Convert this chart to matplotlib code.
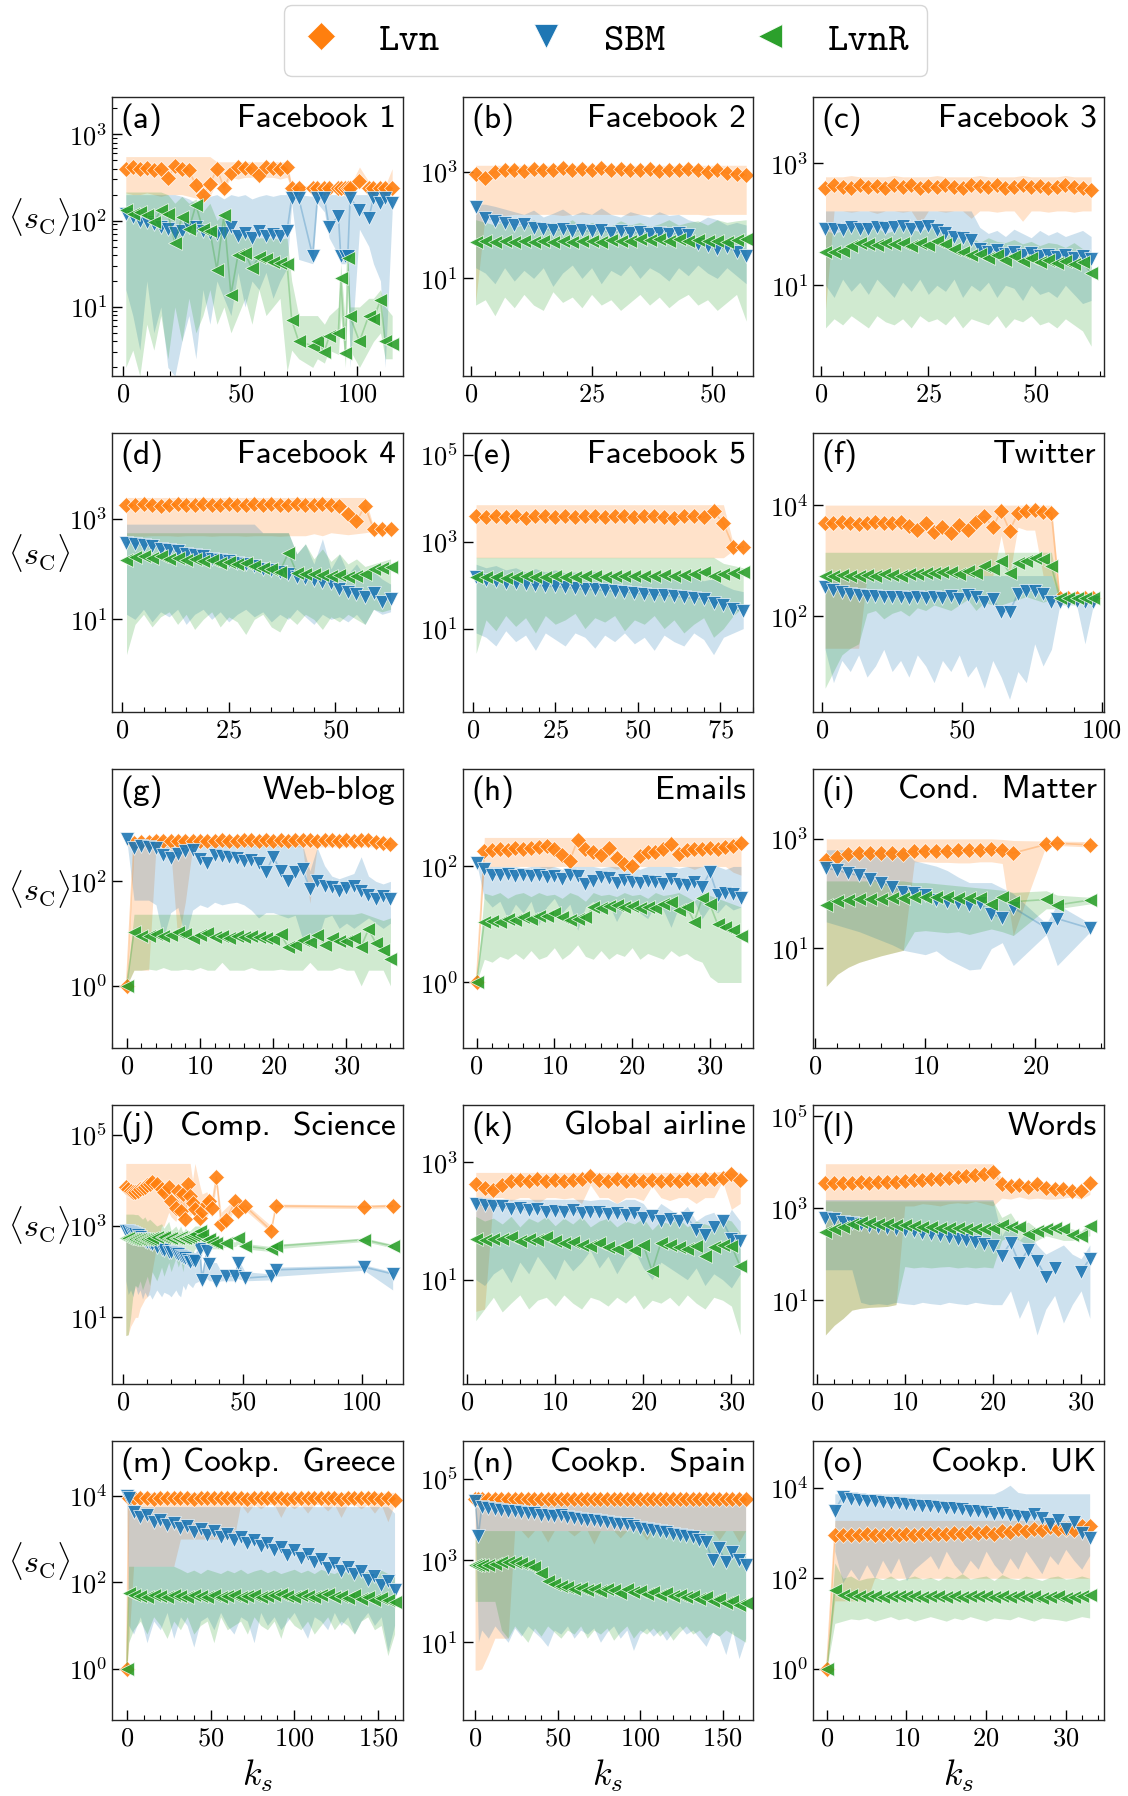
import matplotlib.pyplot as plt
import numpy as np
from matplotlib.lines import Line2D
from matplotlib.ticker import AutoMinorLocator, MultipleLocator, NullLocator, LogLocator

plt.rcParams['font.family'] = 'cmr10'
plt.rcParams['mathtext.fontset'] = 'cm'
plt.rcParams['axes.formatter.use_mathtext'] = True

nan = float('nan')

# all <s_C> values are log10: mean, lower and upper edge of the band

# (a) Facebook 1
fb1_ks = [1,4,7,10,13,16,19,22,25,28,31,34,37,40,43,46,49,52,55,58,61,64,67,70,
          72,75,81,83,86,88,92,93,95,96,97,101,105,107,110,112,115]
fb1_lvn = [2.6,2.62,2.6,2.61,2.58,2.6,2.49,2.63,2.6,2.58,2.41,2.29,2.42,2.6,2.38,2.55,2.62,2.61,2.6,2.53,2.62,2.61,2.6,2.62,
           2.38,2.38,2.38,2.38,2.38,2.38,2.38,2.38,2.38,2.38,2.38,2.46,2.38,2.38,2.38,2.38,2.38]
fb1_lvn_lo = [2.32,2.3,2.3,2.32,2.3,2.28,2.3,2.3,2.3,2.28,2.26,2.25,2.28,2.45,2.35,2.5,2.48,2.5,2.5,2.47,2.5,2.5,2.48,2.5,
              2.36,2.36,2.35,2.36,2.36,2.36,2.36,2.36,2.36,2.36,2.36,2.38,2.36,2.36,2.36,2.36,2.36]
fb1_lvn_hi = [2.74,2.74,2.74,2.74,2.74,2.74,2.74,2.74,2.74,2.74,2.74,2.74,2.74,2.68,2.68,2.68,2.68,2.68,2.68,2.68,2.68,2.68,2.68,2.68,
              2.42,2.4,2.4,2.4,2.4,2.4,2.4,2.4,2.4,2.4,2.4,2.62,2.45,2.4,2.42,2.4,2.6]
fb1_sbm = [2.08,2.04,2.0,1.98,1.96,1.92,1.9,1.85,1.88,1.92,1.93,1.88,1.86,1.84,1.86,1.93,1.82,1.85,1.8,1.88,1.82,1.84,1.82,1.88,
           2.26,2.26,1.59,2.26,2.26,1.93,2.05,1.59,1.59,1.59,2.26,2.12,2.03,2.26,2.2,2.26,2.2]
fb1_sbm_lo = [1.2,0.9,0.5,1.3,0.7,1.0,0.3,0.2,0.6,0.9,0.4,1.2,0.8,1.3,1.1,0.9,1.4,1.0,1.3,1.2,1.4,1.1,1.3,1.45,
              2.2,1.55,1.5,2.2,2.1,1.8,1.6,1.5,1.5,1.55,0.3,1.9,1.7,1.5,1.3,0.3,2.1]
fb1_sbm_hi = [2.3,2.3,2.3,2.3,2.3,2.3,2.3,2.3,2.28,2.25,2.2,2.3,2.28,2.3,2.25,2.3,2.28,2.3,2.25,2.28,2.3,2.28,2.3,2.3,
              2.3,2.3,2.28,2.3,2.3,2.3,2.3,2.28,2.3,2.3,2.3,2.3,2.3,2.3,2.3,2.3,2.28]
fb1_lvnr = [2.12,2.08,2.1,2.06,1.98,2.12,2.08,1.74,2.04,1.9,2.18,1.9,1.88,1.43,2.06,1.14,1.6,1.62,1.45,1.58,1.55,1.52,1.51,1.5,
            0.85,0.6,0.55,0.6,0.48,0.66,0.7,1.33,0.47,1.57,0.89,0.6,0.9,0.86,1.08,0.6,0.57]
fb1_lvnr_lo = [0.3,0.5,0.2,0.8,0.5,0.9,0.4,1.0,0.6,1.1,0.7,0.9,1.2,0.8,1.0,0.7,0.9,1.1,0.8,1.2,0.9,1.0,1.1,0.25,
               0.5,0.4,0.3,0.4,0.35,0.5,0.45,0.9,0.3,1.2,0.5,0.3,0.5,0.6,0.7,0.4,0.4]
fb1_lvnr_hi = [2.33,2.33,2.33,2.33,2.33,2.33,2.3,2.2,2.28,2.2,2.25,2.1,2.2,2.0,2.1,1.9,1.85,1.85,1.8,1.8,1.8,1.8,1.78,1.8,
               1.3,0.9,0.9,0.9,0.8,0.9,1.0,1.5,0.8,1.6,1.0,1.0,1.1,1.1,1.2,1.0,0.9]

# (b) Facebook 2
fb2_ks = [1,3,5,7,9,11,13,15,17,19,21,23,25,27,29,31,33,35,37,39,41,43,45,47,49,51,53,55,57]
fb2_lvn = [2.95,2.89,3.0,3.03,3.04,3.02,3.05,3.03,3.04,3.06,3.04,3.05,3.03,3.06,3.04,3.05,3.03,3.04,3.05,3.02,3.04,3.03,3.05,3.03,3.0,3.04,2.98,2.96,2.93]
fb2_lvn_lo = [0.55,2.2,2.2,2.18,2.2,2.2,2.2,2.2,2.2,2.18,2.2,2.2,2.2,2.2,2.2,2.2,2.18,2.2,2.2,2.2,2.2,2.2,2.2,2.2,2.18,2.2,2.2,2.2,2.2]
fb2_lvn_hi = [3.12,3.12,3.12,3.12,3.12,3.12,3.12,3.12,3.12,3.12,3.12,3.12,3.12,3.12,3.12,3.12,3.12,3.12,3.12,3.12,3.12,3.12,3.12,3.12,3.12,3.12,3.12,3.12,3.12]
fb2_sbm = [2.33,2.14,2.08,2.04,2.0,2.02,1.95,1.93,1.9,1.92,1.88,1.9,1.88,1.9,1.86,1.88,1.85,1.87,1.84,1.86,1.83,1.85,1.82,1.65,1.6,1.55,1.58,1.5,1.42]
fb2_sbm_lo = [1.2,1.1,0.9,1.2,0.95,1.15,1.0,1.2,0.85,1.1,1.25,1.0,1.2,0.9,1.15,1.05,1.25,1.0,1.2,1.1,0.95,1.2,1.05,1.25,1.1,1.0,1.2,1.05,0.9]
fb2_sbm_hi = [2.39,2.39,2.35,2.3,2.25,2.2,2.28,2.15,2.22,2.3,2.18,2.25,2.2,2.32,2.2,2.15,2.25,2.2,2.15,2.25,2.18,2.2,2.1,2.05,2.15,2.1,2.0,2.05,2.0]
fb2_lvnr = [1.68,1.7,1.68,1.7,1.69,1.7,1.68,1.71,1.69,1.7,1.68,1.7,1.71,1.69,1.72,1.7,1.71,1.73,1.72,1.74,1.71,1.73,1.7,1.72,1.7,1.71,1.69,1.72,1.73]
fb2_lvnr_lo = [0.5,0.6,0.3,0.65,0.45,0.7,0.5,0.4,0.75,0.55,0.65,0.45,0.7,0.5,0.6,0.4,0.55,0.7,0.5,0.65,0.45,0.6,0.7,0.5,0.6,0.4,0.55,0.7,0.2]
fb2_lvnr_hi = [2.1,2.05,2.0,2.08,1.95,2.02,2.1,1.98,2.05,2.0,2.1,1.95,2.05,2.0,1.98,2.08,2.0,2.05,1.97,2.02,2.1,2.0,2.05,2.08,2.0,2.1,2.05,2.08,2.1]

# (c) Facebook 3
fb3_ks = [1,3,5,7,9,11,13,15,17,19,21,23,25,27,29,31,33,35,37,39,41,43,45,47,49,51,53,55,57,59,61,63]
fb3_lvn = [2.6,2.64,2.62,2.6,2.65,2.61,2.63,2.6,2.64,2.62,2.65,2.6,2.63,2.61,2.64,2.62,2.6,2.65,2.63,2.61,2.64,2.6,2.62,2.65,2.61,2.63,2.6,2.62,2.64,2.61,2.6,2.56]
fb3_lvn_lo = [0.6,2.22,2.22,2.2,2.22,2.22,2.18,2.22,2.22,2.2,2.22,2.0,2.22,2.22,2.2,2.22,2.22,2.1,2.22,2.22,2.2,2.22,2.22,2.05,2.22,2.22,2.2,2.22,2.22,2.2,2.22,2.22]
fb3_lvn_hi = [2.78,2.78,2.78,2.8,2.78,2.78,2.78,2.78,2.8,2.78,2.78,2.78,2.78,2.8,2.78,2.78,2.78,2.78,2.8,2.78,2.78,2.78,2.78,2.8,2.78,2.78,2.78,2.78,2.8,2.78,2.78,2.78]
fb3_sbm = [1.92,1.93,1.9,1.95,1.93,1.92,1.96,1.94,1.95,1.97,1.93,1.96,1.98,1.9,1.85,1.8,1.78,1.75,1.6,1.55,1.58,1.52,1.55,1.5,1.53,1.48,1.5,1.46,1.5,1.45,1.48,1.43]
fb3_sbm_lo = [1.0,0.8,1.1,0.9,1.05,0.85,1.1,0.95,0.8,1.05,0.9,1.1,0.85,1.0,0.9,1.1,0.8,1.0,0.9,1.05,0.8,1.0,0.95,0.75,1.0,0.85,0.9,0.8,1.0,0.85,0.7,0.75]
fb3_sbm_hi = [2.22,2.22,2.22,2.22,2.22,2.22,2.22,2.22,2.22,2.22,2.22,2.22,2.22,2.22,2.22,2.22,2.22,2.22,1.95,1.85,1.9,1.8,1.92,1.85,1.78,1.9,1.82,1.88,1.8,1.85,1.9,1.8]
fb3_lvnr = [1.54,1.55,1.56,1.65,1.7,1.68,1.66,1.7,1.67,1.69,1.65,1.7,1.66,1.72,1.68,1.6,1.55,1.5,1.52,1.45,1.5,1.42,1.48,1.4,1.45,1.38,1.42,1.36,1.4,1.35,1.38,1.2]
fb3_lvnr_lo = [0.3,0.45,0.35,0.5,0.4,0.3,0.5,0.4,0.35,0.45,0.3,0.5,0.4,0.45,0.35,0.5,0.3,0.45,0.4,0.35,0.5,0.3,0.45,0.4,0.5,0.35,0.4,0.3,0.45,0.35,0.25,0.0]
fb3_lvnr_hi = [1.9,1.85,1.9,1.95,2.0,1.9,1.95,1.85,1.9,2.0,1.92,1.88,1.95,1.9,1.85,1.8,1.75,1.8,1.7,1.78,1.72,1.7,1.75,1.68,1.72,1.65,1.7,1.68,1.62,1.7,1.6,1.55]

# (d) Facebook 4
fb4_ks = [1,3,5,7,9,11,13,15,17,19,21,23,25,27,29,31,33,35,37,39,41,43,45,47,49,51,53,55,57,59,61,63]
fb4_lvn = [3.28,3.27,3.29,3.28,3.26,3.28,3.3,3.27,3.28,3.29,3.27,3.28,3.3,3.28,3.27,3.29,3.28,3.3,3.27,3.28,3.29,3.28,3.27,3.3,3.28,3.25,3.1,2.95,3.25,2.79,2.79,2.8]
fb4_lvn_lo = [2.66,2.66,2.65,2.66,2.66,2.66,2.65,2.66,2.66,2.66,2.65,2.66,2.66,2.66,2.65,2.66,2.66,2.66,2.65,2.66,2.66,2.66,2.7,2.66,2.72,2.7,2.68,2.7,2.72,2.75,2.75,2.76]
fb4_lvn_hi = [3.42,3.42,3.42,3.42,3.42,3.42,3.42,3.42,3.42,3.42,3.42,3.42,3.42,3.42,3.42,3.42,3.42,3.42,3.42,3.42,3.42,3.42,3.42,3.42,3.42,3.42,3.42,3.42,3.42,2.85,2.84,2.84]
fb4_sbm = [2.52,2.5,2.47,2.45,2.4,2.38,2.35,2.3,2.28,2.25,2.2,2.18,2.15,2.12,2.1,2.05,2.0,1.98,1.95,1.9,1.85,1.82,1.78,1.75,1.72,1.6,1.55,1.5,1.45,1.52,1.35,1.4]
fb4_sbm_lo = [1.1,1.0,1.2,0.95,1.15,1.05,1.2,0.9,1.1,1.2,1.0,1.15,0.95,1.1,1.2,1.05,1.15,0.95,1.1,1.0,1.2,1.05,0.9,1.1,1.0,1.05,0.95,1.1,0.9,1.2,1.1,1.15]
fb4_sbm_hi = [2.89,2.89,2.89,2.89,2.89,2.89,2.89,2.89,2.89,2.89,2.89,2.89,2.89,2.89,2.89,2.89,2.72,2.72,2.72,2.72,2.3,2.5,2.1,2.6,2.0,2.3,1.9,2.1,1.85,1.95,1.8,1.7]
fb4_lvnr = [2.17,2.24,2.26,2.22,2.25,2.2,2.22,2.18,2.2,2.15,2.17,2.12,2.14,2.1,2.12,2.05,2.02,2.0,1.95,2.32,1.92,1.9,1.9,1.88,1.86,1.88,1.85,1.87,1.9,2.0,2.02,2.03]
fb4_lvnr_lo = [0.3,0.9,1.1,0.85,1.05,1.15,0.9,1.1,0.8,1.0,1.15,0.85,1.05,0.95,0.7,1.0,1.1,0.85,0.75,1.05,0.9,1.1,1.0,0.8,1.05,0.95,1.1,1.0,0.9,1.2,1.15,1.2]
fb4_lvnr_hi = [2.72,2.72,2.72,2.72,2.72,2.72,2.72,2.72,2.72,2.72,2.72,2.72,2.72,2.72,2.72,2.72,2.72,2.72,2.72,2.72,2.3,2.5,2.2,2.4,2.15,2.3,2.1,2.2,2.05,2.1,2.15,2.2]

# (e) Facebook 5
fb5_ks = [1,4,7,10,13,16,19,22,25,28,31,34,37,40,43,46,49,52,55,58,61,64,67,70,73,76,79,82]
fb5_lvn = [3.58,3.56,3.6,3.57,3.59,3.55,3.58,3.6,3.57,3.59,3.56,3.6,3.58,3.57,3.59,3.6,3.56,3.58,3.6,3.57,3.55,3.6,3.58,3.56,3.7,3.42,2.88,2.88]
fb5_lvn_lo = [2.63,2.63,2.63,2.63,2.63,2.63,2.63,2.63,2.63,2.63,2.63,2.63,2.63,2.63,2.63,2.63,2.63,2.63,2.63,2.63,2.63,2.63,2.63,2.63,2.63,2.63,2.8,2.8]
fb5_lvn_hi = [3.85,3.85,3.85,3.85,3.85,3.85,3.85,3.85,3.85,3.85,3.85,3.85,3.85,3.85,3.85,3.85,3.85,3.85,3.85,3.85,3.85,3.85,3.85,3.85,3.85,3.85,2.95,2.95]
fb5_sbm = [2.18,2.12,2.1,2.06,2.05,2.02,2.0,1.98,1.97,1.95,1.93,1.9,1.9,1.88,1.86,1.85,1.82,1.8,1.78,1.77,1.75,1.72,1.7,1.68,1.6,1.55,1.45,1.4]
fb5_sbm_lo = [0.9,0.8,0.6,0.95,0.7,0.85,0.5,0.9,0.75,0.6,0.9,0.8,0.55,0.85,0.7,0.9,0.65,0.8,0.5,0.85,0.7,0.6,0.9,0.75,0.4,0.8,0.9,1.0]
fb5_sbm_hi = [2.48,2.4,2.45,2.35,2.4,2.3,2.38,2.3,2.35,2.28,2.3,2.25,2.32,2.25,2.28,2.2,2.3,2.22,2.25,2.2,2.15,2.28,2.18,2.1,2.15,2.0,1.9,1.85]
fb5_lvnr = [2.18,2.18,2.19,2.17,2.18,2.2,2.18,2.19,2.2,2.18,2.19,2.2,2.21,2.19,2.2,2.21,2.22,2.2,2.21,2.23,2.22,2.24,2.25,2.3,2.22,2.26,2.28,2.3]
fb5_lvnr_lo = [0.43,1.2,0.95,1.3,1.05,1.25,0.9,1.3,1.1,1.2,1.35,1.0,1.25,1.15,1.3,0.95,1.2,1.1,1.3,1.0,1.2,0.9,1.1,1.25,0.8,1.0,1.3,1.5]
fb5_lvnr_hi = [2.64,2.64,2.64,2.64,2.64,2.64,2.64,2.64,2.64,2.64,2.64,2.64,2.64,2.64,2.64,2.64,2.64,2.64,2.64,2.64,2.64,2.64,2.64,2.64,2.64,2.5,2.45,2.4]

# (f) Twitter
tw_ks = [1,4,7,10,13,16,19,22,25,28,31,34,37,40,43,46,49,52,55,58,61,64,67,70,73,76,79,82,85,88,91,94,97]
tw_lvn = [3.68,3.67,3.69,3.68,3.66,3.68,3.7,3.67,3.68,3.69,3.62,3.55,3.68,3.52,3.6,3.5,3.65,3.55,3.7,
          3.8,3.6,3.9,3.54,3.85,3.9,3.92,3.88,3.85,2.32,2.33,2.32,2.32,2.33]
tw_lvn_lo = [1.42,1.42,1.42,1.42,1.42,2.73,2.73,2.73,2.73,2.73,2.73,2.73,2.73,2.73,2.73,2.73,2.73,2.73,2.73,2.73,2.73,
             3.45,2.73,3.6,3.55,3.55,2.73,2.73,2.28,2.28,2.28,2.28,2.28]
tw_lvn_hi = [4.0,4.0,4.0,4.0,4.0,4.0,4.0,4.0,4.0,4.0,4.0,4.0,4.0,4.0,4.0,4.0,4.0,4.0,4.0,4.0,4.0,4.0,4.0,4.0,4.0,4.0,4.0,4.0,
             2.36,2.36,2.36,2.36,2.36]
tw_sbm = [2.52,2.47,2.43,2.4,2.38,2.37,2.36,2.35,2.35,2.34,2.33,2.34,2.32,2.35,2.33,2.36,2.3,2.38,2.34,
          2.25,2.3,2.08,2.08,2.4,2.45,2.45,2.4,2.25,2.26,2.26,2.27,2.26,2.26]
tw_sbm_lo = [1.4,0.8,1.2,1.0,1.3,0.9,1.1,1.4,1.0,1.2,0.9,1.3,1.1,0.8,1.2,1.0,1.3,0.9,1.1,0.7,1.2,0.9,0.5,1.0,0.8,1.5,1.1,1.4,
             2.2,2.2,2.2,1.5,2.2]
tw_sbm_hi = [2.73,2.73,2.73,2.73,2.73,2.73,2.73,2.73,2.73,2.73,2.73,2.73,2.73,2.73,2.73,2.73,2.73,2.73,2.73,2.73,2.73,2.73,2.73,2.73,2.73,2.73,2.73,2.73,
             2.3,2.3,2.3,2.3,2.3]
tw_lvnr = [2.73,2.72,2.74,2.73,2.72,2.74,2.73,2.75,2.74,2.73,2.76,2.75,2.78,2.77,2.8,2.79,2.75,2.82,2.78,
           2.9,2.85,3.0,2.78,2.95,3.0,3.05,3.02,2.9,2.32,2.32,2.33,2.32,2.32]
tw_lvnr_lo = [0.7,1.0,1.3,1.42,1.5,2.05,2.1,1.95,2.05,2.1,2.0,2.15,2.1,2.2,2.15,2.1,2.2,2.3,2.1,2.25,2.2,
              2.2,2.25,2.3,2.35,2.3,2.25,2.3,2.28,2.28,2.28,2.28,2.28]
tw_lvnr_hi = [3.15,3.15,3.15,3.15,3.15,3.15,3.15,3.15,3.15,3.15,3.15,3.15,3.15,3.15,3.15,3.15,3.15,3.15,3.15,3.15,3.15,3.15,3.15,3.15,3.15,3.15,3.15,3.15,
              2.36,2.36,2.36,2.36,2.36]

# (g) Web-blog
blog_ks = [0,1,2,3,4,5,6,7,8,9,10,11,12,13,14,15,16,17,18,19,20,21,22,23,24,25,26,27,28,29,30,31,32,33,34,35,36]
blog_lvn = [0.0,2.74,2.76,2.76,2.77,2.77,2.78,2.77,2.77,2.78,2.77,2.78,2.78,2.79,2.78,2.78,2.79,2.79,2.78,2.79,2.78,
            2.79,2.78,2.79,2.79,2.79,2.78,2.79,2.79,2.78,2.79,2.78,2.79,2.8,2.75,2.74,2.72]
blog_lvn_lo = [0.0,0.3,0.3,0.3,2.65,2.65,2.62,0.85,1.6,2.65,2.66,2.66,2.66,2.66,2.66,2.66,2.66,2.66,2.66,2.66,2.66,
               2.66,2.66,2.66,2.66,1.58,2.66,2.66,2.66,2.66,2.66,2.66,2.66,2.66,2.66,2.66,2.65]
blog_lvn_hi = [0.0,2.84,2.84,2.84,2.84,2.84,2.84,2.84,2.84,2.84,2.84,2.84,2.84,2.84,2.84,2.84,2.84,2.84,2.84,2.84,2.84,
               2.84,2.84,2.84,2.84,2.84,2.84,2.84,2.84,2.84,2.84,2.84,2.84,2.84,2.84,2.84,2.84]
blog_sbm = [2.81,2.64,2.67,2.66,2.63,2.5,2.44,2.52,2.58,2.6,2.43,2.35,2.5,2.48,2.47,2.45,2.39,2.41,2.35,2.18,2.47,
            2.2,2.0,2.17,2.23,1.86,2.01,1.92,1.89,1.82,1.87,1.91,1.82,1.74,1.67,1.72,1.66]
blog_sbm_lo = [2.81,1.64,1.64,1.64,1.55,0.9,1.4,1.5,0.9,1.45,1.55,1.5,1.6,1.55,1.58,1.6,1.55,1.45,1.3,1.4,1.4,
               1.35,1.3,1.35,0.9,0.85,0.85,1.3,1.35,1.1,1.2,1.1,1.2,1.3,1.2,1.1,1.2]
blog_sbm_hi = [2.81,2.72,2.72,2.72,2.72,2.72,2.72,2.72,2.72,2.72,2.7,2.7,2.7,2.7,2.7,2.7,2.7,2.7,2.7,2.7,2.7,
               2.7,2.7,2.7,2.7,2.2,2.65,2.3,2.1,2.05,2.1,2.15,2.47,2.1,2.0,1.95,2.0]
blog_lvnr = [0.0,1.04,0.96,0.96,1.0,0.96,0.98,1.03,1.0,0.91,0.97,1.01,0.94,0.96,0.91,0.95,0.94,0.95,0.93,0.91,0.9,
             0.99,0.75,0.79,0.88,0.83,0.98,0.79,0.91,0.85,0.85,0.91,0.75,1.08,0.82,0.69,0.51]
blog_lvnr_lo = [0.0,0.3,0.3,0.32,0.3,0.35,0.3,0.3,0.32,0.3,0.35,0.3,0.3,0.45,0.3,0.3,0.3,0.35,0.3,0.3,0.3,
                0.32,0.3,0.3,0.3,0.45,0.3,0.3,0.3,0.35,0.3,0.3,0.0,0.3,0.3,0.3,0.0]
blog_lvnr_hi = [0.0,1.37,1.37,1.37,1.37,1.37,1.37,1.37,1.37,1.37,1.37,1.37,1.37,1.37,1.37,1.37,1.37,1.37,1.37,1.37,1.37,
                1.37,1.37,1.37,1.37,1.37,1.37,1.37,1.37,1.37,1.37,1.37,1.4,1.35,1.3,1.25,1.3]

# (h) Emails
mail_ks = [0,1,2,3,4,5,6,7,8,9,10,11,12,13,14,15,16,17,18,19,20,21,22,23,24,25,26,27,28,29,30,31,32,33,34]
mail_lvn = [0.0,2.27,2.29,2.3,2.29,2.31,2.3,2.32,2.33,2.35,2.3,2.2,2.1,2.46,2.3,2.25,2.2,2.32,2.15,2.05,2.01,
            2.18,2.25,2.25,2.3,2.38,2.22,2.28,2.3,2.3,2.32,2.3,2.33,2.35,2.4]
mail_lvn_lo = [0.0,2.0,2.0,2.0,2.0,2.0,2.0,2.0,2.0,1.95,2.0,2.0,2.0,2.0,2.0,2.0,2.0,2.0,1.95,2.0,2.0,
               2.0,2.0,2.0,2.0,2.0,2.0,2.0,1.95,2.0,2.0,2.0,2.0,1.9,1.85]
mail_lvn_hi = [0.0,2.5,2.5,2.5,2.5,2.5,2.5,2.5,2.5,2.5,2.5,2.5,2.5,2.5,2.5,2.5,2.5,2.5,2.5,2.5,2.5,
               2.5,2.5,2.5,2.5,2.5,2.5,2.5,2.5,2.5,2.5,2.5,2.5,2.5,2.5]
mail_sbm = [2.06,1.95,1.86,1.85,1.87,1.84,1.86,1.83,1.85,1.82,1.84,1.78,1.85,1.83,1.7,1.75,1.82,1.8,1.72,1.76,1.74,
            1.72,1.75,1.73,1.7,1.78,1.7,1.68,1.74,1.65,1.9,1.5,1.55,1.53,1.45]
mail_sbm_lo = [2.06,1.45,1.3,1.4,1.1,1.35,1.2,1.4,1.0,1.3,1.45,1.2,1.35,0.9,1.3,1.4,1.2,1.35,1.05,1.3,1.4,
               1.2,1.1,1.35,1.25,0.95,1.3,1.2,1.4,1.1,1.3,1.2,1.35,1.25,1.3]
mail_sbm_hi = [2.06,2.0,2.0,2.0,2.0,2.0,1.97,2.0,2.0,2.0,2.0,1.95,2.0,2.0,2.0,2.0,1.97,2.0,2.0,2.0,2.0,
               1.95,2.0,2.0,2.0,2.0,1.97,2.0,2.0,2.0,2.0,2.0,1.95,2.0,2.0]
mail_lvnr = [0.0,1.05,1.06,1.04,1.1,1.08,1.12,1.1,1.14,1.15,1.2,1.12,1.08,1.1,1.12,1.3,1.28,1.32,1.34,1.3,1.32,
             1.28,1.3,1.29,1.35,1.38,1.25,1.3,1.05,1.45,1.35,1.0,0.95,0.9,0.8]
mail_lvnr_lo = [0.0,0.4,0.35,0.45,0.4,0.5,0.4,0.55,0.4,0.45,0.6,0.4,0.5,0.65,0.45,0.4,0.55,0.4,0.5,0.45,0.6,
                0.4,0.5,0.45,0.4,0.55,0.45,0.5,0.4,0.35,0.1,0.0,0.0,0.0,0.0]
mail_lvnr_hi = [0.0,1.54,1.5,1.55,1.45,1.52,1.55,1.48,1.55,1.5,1.52,1.45,1.55,1.5,1.4,1.55,1.5,1.52,1.48,1.55,1.5,
                1.52,1.45,1.55,1.5,1.52,1.55,1.48,1.4,1.55,1.5,1.45,1.4,1.35,1.3]

# (i) Cond. Matter
cm_ks = [1,2,3,4,5,6,7,8,9,10,11,12,13,14,15,16,17,18,21,22,25]
cm_lvn = [2.61,2.67,2.72,2.74,2.74,2.74,2.75,2.73,2.77,2.77,2.77,2.77,2.8,2.8,2.8,2.81,2.8,2.74,2.9,2.92,2.89]
cm_lvn_lo = [0.3,0.52,0.65,0.74,0.8,0.86,0.91,0.96,2.58,2.58,2.57,2.57,2.56,2.56,2.58,2.58,2.55,1.23,2.88,2.88,2.85]
cm_lvn_hi = [3.0,3.0,3.0,3.0,3.0,3.0,3.0,3.0,3.0,3.0,3.0,3.0,3.0,3.0,3.0,3.0,2.99,2.97,2.96,2.96,2.95]
cm_sbm = [2.46,2.43,2.37,2.33,2.26,2.2,2.12,2.03,2.0,1.97,1.88,1.85,1.82,1.79,1.82,1.63,1.55,1.74,1.37,1.54,1.36]
cm_sbm_lo = [1.48,1.42,1.36,1.3,1.22,1.14,1.06,0.96,0.92,0.88,0.95,0.8,0.7,0.6,0.62,0.99,1.1,0.68,1.25,0.68,1.3]
cm_sbm_hi = [2.8,2.8,2.8,2.8,2.8,2.8,2.8,2.8,2.6,2.55,2.5,2.42,2.3,2.2,2.2,2.2,2.1,2.0,1.45,1.8,1.45]
cm_lvnr = [1.79,1.86,1.88,1.89,1.9,1.9,1.92,1.92,1.93,1.93,1.93,1.94,1.91,1.91,1.91,1.8,1.94,1.85,1.89,1.79,1.88]
cm_lvnr_lo = [0.3,0.52,0.65,0.74,0.8,0.86,0.91,0.96,1.3,1.32,1.3,1.28,1.3,1.25,1.3,1.35,1.3,1.23,1.72,1.72,1.81]
cm_lvnr_hi = [2.23,2.23,2.23,2.23,2.23,2.23,2.23,2.23,2.2,2.2,2.18,2.16,2.14,2.12,2.1,2.08,2.06,2.02,2.05,1.97,1.93]

# (j) Comp. Science
cs_ks = [1,2,3,4,5,6,7,8,9,10,11,12,14,16,17,19,20,22,23,24,25,26,27,
         28,29,30,32,33,35,36,37,39,41,43,47,48,51,62,64,101,113]
cs_lvn = [3.86,3.8,3.77,3.74,3.74,3.77,3.8,3.83,3.86,3.9,3.92,3.96,3.92,3.81,3.74,3.85,3.55,3.4,3.76,3.33,3.7,3.15,3.92,
          3.66,3.51,3.37,3.18,3.33,3.48,3.55,3.4,4.08,3.04,3.13,3.55,3.33,3.44,2.9,3.44,3.42,3.44]
cs_lvn_lo = [0.6,0.62,0.8,0.9,1.0,1.0,1.2,1.3,1.4,1.45,1.6,2.0,2.6,3.0,3.0,3.3,3.2,3.1,3.3,3.1,3.2,3.0,3.3,
             3.2,3.3,3.1,3.0,3.1,3.2,3.3,3.2,3.9,2.9,3.0,3.4,3.2,3.35,2.85,3.4,3.38,3.4]
cs_lvn_hi = [4.37,4.37,4.37,4.37,4.37,4.37,4.37,4.37,4.37,4.37,4.37,4.37,4.37,4.37,4.37,4.37,4.37,4.37,4.37,4.37,4.37,4.37,4.37,
             4.37,4.0,4.37,3.9,3.7,3.75,3.6,3.5,4.1,3.3,3.4,3.6,3.5,3.5,3.0,3.48,3.46,3.48]
cs_sbm = [2.9,2.88,2.86,2.84,2.82,2.8,2.76,2.72,2.68,2.66,2.63,2.6,2.55,2.5,2.47,2.44,2.42,2.4,2.38,2.35,2.32,2.3,2.25,
          2.22,2.26,2.24,2.49,1.82,2.45,2.17,nan,1.8,nan,1.9,1.9,2.19,1.86,1.9,2.04,2.1,1.95]
cs_sbm_lo = [1.8,1.5,1.6,1.45,1.7,1.5,1.6,1.4,1.55,1.45,1.5,1.4,1.6,1.45,1.55,1.5,1.45,1.6,1.5,1.45,1.7,1.6,1.75,
             1.7,1.65,1.75,1.8,1.75,1.85,1.8,1.8,1.75,1.8,1.8,1.8,1.85,1.8,1.82,1.9,2.03,1.6]
cs_sbm_hi = [3.0,3.0,2.98,2.96,2.95,2.93,2.9,2.9,2.88,2.85,2.82,2.8,2.75,2.7,2.68,2.65,2.6,2.58,2.55,2.55,2.5,2.5,2.48,
             2.45,2.45,2.4,2.6,2.0,2.6,2.3,2.2,2.2,2.0,2.0,2.0,2.3,2.0,1.95,2.1,2.15,2.0]
cs_lvnr = [2.74,2.73,2.72,2.72,2.71,2.71,2.71,2.72,2.72,2.72,2.72,2.73,2.75,2.76,2.75,2.74,2.73,2.74,2.73,2.75,2.74,2.74,2.76,
           2.78,2.8,2.82,2.89,2.8,2.7,2.72,2.65,2.63,nan,2.63,nan,2.74,2.56,2.49,2.56,2.7,2.56]
cs_lvnr_lo = [0.6,0.62,1.0,1.5,1.7,1.65,1.8,1.6,1.75,1.9,1.7,2.0,1.8,2.1,1.9,2.2,2.0,2.3,2.1,2.25,2.0,2.4,2.2,
              2.3,2.4,2.5,2.5,2.4,2.6,2.5,2.5,2.5,2.5,2.55,2.55,2.6,2.5,2.44,2.5,2.66,2.52]
cs_lvnr_hi = [3.26,3.26,3.26,3.26,3.25,3.25,3.2,3.15,3.2,3.1,3.15,3.1,3.0,3.05,2.95,3.1,2.9,3.0,2.9,3.0,2.85,2.95,2.9,
              2.9,2.95,3.0,3.0,2.9,2.85,2.8,2.75,2.7,2.7,2.7,2.65,2.78,2.62,2.55,2.6,2.74,2.6]

# (k) Global airline
air_ks = [1,2,3,4,5,6,7,8,9,10,11,12,13,14,15,16,17,18,19,20,21,22,23,24,25,26,27,28,29,30,31]
air_lvn = [2.64,2.57,2.53,2.62,2.68,2.7,2.68,2.71,2.69,2.7,2.68,2.7,2.71,2.77,2.7,2.69,2.71,2.68,2.7,2.69,2.7,2.68,2.7,2.69,2.71,2.7,2.72,2.71,2.74,2.8,2.7]
air_lvn_lo = [0.46,0.5,2.4,2.4,2.35,2.4,2.4,2.3,2.4,2.4,2.38,2.4,2.3,2.62,2.4,2.4,2.3,2.4,2.4,2.35,2.6,2.4,2.35,2.4,2.4,2.3,2.4,2.4,2.68,2.2,2.3]
air_lvn_hi = [2.83,2.83,2.83,2.83,2.83,2.83,2.83,2.83,2.83,2.83,2.83,2.83,2.83,2.83,2.83,2.83,2.83,2.83,2.83,2.83,2.83,2.83,2.83,2.83,2.83,2.83,2.83,2.83,2.85,2.86,2.83]
air_sbm = [2.29,2.27,2.26,2.25,2.2,2.22,2.18,2.2,2.16,2.17,2.15,2.18,2.14,2.15,2.16,2.12,2.14,2.1,2.13,2.05,2.08,2.0,2.03,2.0,2.06,1.85,1.77,1.89,2.0,1.7,1.66]
air_sbm_lo = [1.0,0.9,1.1,1.2,0.95,1.3,1.1,1.4,1.2,1.0,1.35,1.15,1.3,1.5,1.2,1.4,1.1,1.35,1.5,1.2,1.0,1.3,1.2,1.1,1.0,1.2,0.9,1.1,1.0,0.86,1.1]
air_sbm_hi = [2.37,2.37,2.37,2.37,2.37,2.37,2.37,2.37,2.37,2.37,2.37,2.37,2.37,2.35,2.37,2.37,2.3,2.37,2.37,2.3,2.1,2.3,2.2,2.1,2.25,2.0,2.1,2.15,1.9,2.2,2.0]
air_lvnr = [1.69,1.68,1.7,1.69,1.72,1.66,1.7,1.68,1.72,1.66,1.62,1.65,1.6,1.58,1.62,1.55,1.52,1.6,1.5,1.6,1.15,1.63,1.6,1.55,1.52,1.58,1.4,1.55,1.6,1.58,1.23]
air_lvnr_lo = [0.3,0.5,0.7,0.45,0.6,0.74,0.5,0.65,0.7,0.55,0.74,0.6,0.5,0.7,0.65,0.55,0.7,0.6,0.74,0.5,0.65,0.6,0.7,0.55,0.74,0.6,0.5,0.7,0.65,0.55,0.06]
air_lvnr_hi = [2.08,2.0,2.05,1.95,2.08,1.9,2.05,1.98,2.08,1.92,2.05,1.95,2.08,1.9,2.0,2.05,1.9,2.0,1.95,2.05,1.85,2.0,1.95,2.05,1.9,2.0,1.95,1.9,2.05,2.0,1.8]

# (l) Words
words_ks = [1,2,3,4,5,6,7,8,9,10,11,12,13,14,15,16,17,18,19,20,21,22,23,24,25,26,27,28,29,30,31]
words_lvn = [3.55,3.56,3.55,3.56,3.57,3.56,3.57,3.58,3.58,3.6,3.61,3.62,3.63,3.64,3.66,3.68,3.7,3.72,3.74,3.8,
             3.52,3.48,3.5,3.46,3.52,3.45,3.42,3.43,3.38,3.37,3.56]
words_lvn_lo = [0.24,0.45,0.6,0.78,0.82,0.84,0.85,0.86,0.9,3.05,3.05,3.1,3.08,3.05,3.1,3.12,3.1,3.15,3.1,3.05,
                3.22,3.2,3.25,3.2,3.22,3.2,3.2,3.22,3.25,3.2,3.3]
words_lvn_hi = [3.97,3.97,3.97,3.97,3.97,3.97,3.97,3.97,3.97,3.97,3.97,3.97,3.97,3.97,3.97,3.97,3.97,3.97,3.97,3.97,
                3.65,3.55,3.6,3.5,3.58,3.5,3.48,3.5,3.45,3.42,3.6]
words_sbm = [2.79,2.77,2.7,2.68,2.65,2.62,2.6,2.58,2.55,2.53,2.5,2.47,2.44,2.42,2.38,2.34,2.3,2.26,2.22,2.18,
             1.96,2.25,1.8,2.1,1.85,1.51,1.69,nan,nan,1.62,1.9]
words_sbm_lo = [1.66,1.66,1.66,1.66,0.95,0.9,0.92,0.9,0.95,0.92,0.9,0.95,0.92,0.9,0.95,0.92,0.9,0.95,0.92,0.9,
                0.9,1.2,0.6,1.0,0.24,0.8,1.1,0.5,0.9,1.2,0.6]
words_sbm_hi = [3.19,3.19,3.19,3.19,3.19,3.19,3.19,3.19,3.19,3.19,3.19,3.19,3.19,3.19,3.19,3.19,3.19,3.19,3.19,3.19,
                2.4,2.7,2.3,2.5,2.2,2.0,2.1,2.2,2.0,1.9,2.2]
words_lvnr = [2.48,2.55,2.6,2.66,2.7,2.68,2.66,2.66,2.64,2.63,2.62,2.6,2.6,2.58,2.57,2.56,2.55,2.54,2.55,2.57,
              2.63,2.6,2.6,2.43,2.5,2.55,2.56,2.55,2.41,2.4,2.62]
words_lvnr_lo = [0.24,0.45,0.6,0.78,0.82,0.84,0.85,0.86,0.9,1.73,1.7,1.72,1.7,1.72,1.73,1.7,1.72,1.7,1.72,1.7,
                 2.3,2.4,2.3,2.2,2.3,2.4,2.35,2.3,2.3,2.35,2.4]
words_lvnr_hi = [3.16,3.16,3.16,3.16,3.16,3.16,3.16,3.16,3.16,3.16,3.16,3.16,3.16,3.16,3.16,3.16,3.16,3.16,3.16,3.16,
                 2.8,2.9,2.6,2.7,2.55,2.6,2.65,2.6,2.55,2.5,2.7]

# (m) Cookp. Greece
gr_ks = [0,1,4,8,12,16,20,24,28,32,36,40,44,48,52,56,60,64,68,72,76,80,84,88,92,96,100,
         104,108,112,116,120,124,128,132,136,140,144,148,152,156,160]
gr_lvn = [0.0,3.95,3.94,3.96,3.95,3.93,3.96,3.95,3.94,3.96,3.95,3.93,3.95,3.96,3.94,3.95,3.96,3.94,3.95,3.93,3.96,
          3.95,3.94,3.96,3.95,3.93,3.95,3.96,3.94,3.95,3.96,3.94,3.95,3.93,3.96,3.95,3.94,3.96,3.95,3.93,3.94,3.9]
gr_lvn_lo = [0.0,0.5,2.37,2.37,2.37,2.37,2.37,2.37,2.37,3.0,3.0,3.0,3.0,3.0,3.0,3.0,3.0,3.0,
             3.8,3.6,3.8,3.7,3.8,3.8,3.5,3.8,3.7,3.8,3.6,3.8,3.8,3.65,3.8,3.5,3.8,3.8,3.7,3.8,3.6,3.8,3.4,3.8]
gr_lvn_hi = [0.0,4.08,4.08,4.08,4.08,4.08,4.08,4.08,4.08,4.08,4.08,4.08,4.08,4.08,4.08,4.08,4.08,4.08,4.08,4.08,4.08,
             4.08,4.08,4.08,4.08,4.08,4.08,4.08,4.08,4.08,4.08,4.08,4.08,4.08,4.08,4.08,4.08,4.08,4.08,4.08,4.08,4.08]
gr_sbm = [4.0,3.95,3.62,3.5,3.55,3.4,3.45,3.32,3.38,3.25,3.3,3.16,3.24,3.1,3.18,3.04,3.12,2.97,3.05,2.9,2.98,
          2.84,2.9,2.74,2.82,2.64,2.74,2.56,2.66,2.46,2.54,2.34,2.44,2.26,2.36,2.18,2.26,2.06,2.15,1.94,2.02,1.83]
gr_sbm_lo = [4.0,1.0,0.8,1.2,0.6,1.1,0.9,1.3,0.7,1.2,1.0,0.5,1.1,1.2,0.9,1.3,1.0,0.8,1.2,1.1,0.6,
             1.3,1.0,1.2,0.9,1.1,1.3,1.0,0.7,1.2,1.1,0.9,1.3,1.0,1.2,0.8,1.1,1.3,1.0,1.2,0.4,1.0]
gr_sbm_hi = [4.0,4.05,3.75,3.75,3.75,3.75,3.75,3.75,3.75,3.75,3.75,3.75,3.75,3.75,3.75,3.75,3.75,3.75,3.75,3.75,3.75,
             3.75,3.75,3.75,3.75,3.75,3.75,3.75,3.75,3.75,3.75,3.75,3.75,3.75,3.75,3.75,3.75,3.75,3.75,3.75,3.75,3.6]
gr_lvnr = [0.0,1.75,1.7,1.68,1.66,1.7,1.68,1.65,1.7,1.68,1.66,1.7,1.68,1.65,1.7,1.66,1.68,1.7,1.65,1.68,1.7,
           1.66,1.68,1.7,1.72,1.68,1.66,1.7,1.68,1.65,1.7,1.72,1.66,1.68,1.64,1.7,1.62,1.66,1.6,1.64,1.58,1.55]
gr_lvnr_lo = [0.0,0.6,0.9,1.1,0.8,1.2,1.0,0.7,1.1,0.9,1.2,0.8,1.0,1.1,0.6,1.2,0.9,1.0,1.1,0.8,1.2,
              1.0,0.9,1.1,0.7,1.2,1.0,0.9,1.1,0.8,1.0,1.2,0.9,1.1,1.0,0.8,1.1,1.2,0.9,1.0,0.3,0.8]
gr_lvnr_hi = [0.0,2.37,2.37,2.37,2.37,2.37,2.37,2.37,2.37,2.3,2.22,2.28,2.2,2.3,2.25,2.2,2.28,2.22,2.3,2.2,2.26,
              2.3,2.22,2.28,2.2,2.25,2.3,2.22,2.28,2.2,2.3,2.24,2.2,2.28,2.22,2.3,2.2,2.26,2.22,2.28,2.2,2.15]

# (n) Cookp. Spain
es_ks = [0,2,4,8,12,16,20,24,28,32,36,40,44,48,52,56,60,64,68,72,76,80,84,88,92,96,100,
         104,108,112,116,120,124,128,132,136,140,144,148,152,156,160,164]
es_lvn = [4.5,4.49,4.5,4.51,4.5,4.49,4.5,4.51,4.5,4.5,4.49,4.51,4.5,4.5,4.49,4.5,4.51,4.5,4.5,4.49,4.5,4.51,
          4.5,4.49,4.5,4.5,4.51,4.5,4.49,4.5,4.5,4.51,4.5,4.49,4.5,4.51,4.5,4.5,4.49,4.5,4.51,4.5,4.49]
es_lvn_lo = [0.32,0.32,0.35,0.7,1.1,1.1,1.1,3.73,3.73,3.55,3.73,3.73,3.45,3.73,3.73,3.73,3.6,3.73,3.73,3.4,3.73,3.73,
             3.73,3.55,3.73,3.73,3.73,3.5,3.73,3.73,3.73,3.65,3.73,3.73,3.4,3.73,3.73,3.73,3.5,3.73,3.73,3.45,3.73]
es_lvn_hi = [4.63,4.63,4.63,4.63,4.63,4.63,4.63,4.63,4.63,4.63,4.63,4.63,4.63,4.63,4.63,4.63,4.63,4.63,4.63,4.63,4.63,4.63,
             4.63,4.63,4.63,4.63,4.63,4.63,4.63,4.63,4.63,4.63,4.63,4.63,4.63,4.63,4.63,4.63,4.63,4.63,4.63,4.63,4.63]
es_sbm = [4.46,3.6,4.3,4.28,4.26,4.24,4.22,4.2,4.18,4.17,4.15,4.12,4.1,4.08,4.1,4.06,4.04,4.02,4.0,3.98,3.96,3.94,
          3.92,3.9,3.88,3.84,3.8,3.78,3.75,3.72,3.7,3.65,3.62,3.6,3.57,3.5,3.45,3.0,3.3,2.95,3.2,3.0,2.9]
es_sbm_lo = [4.46,1.0,1.3,1.1,1.4,1.2,1.0,1.35,1.15,1.4,1.25,1.1,0.9,1.3,1.2,1.4,1.1,1.3,1.2,1.35,1.0,1.25,
             1.4,1.1,1.3,0.8,1.2,1.35,1.15,1.3,1.05,1.25,1.4,1.2,1.3,1.1,0.9,1.25,1.15,0.7,1.3,0.6,1.1]
es_sbm_hi = [4.46,4.54,4.54,4.54,4.54,4.54,4.54,4.54,4.54,4.54,4.54,4.54,4.54,4.54,4.54,4.54,4.54,4.54,4.54,4.54,4.54,4.54,
             4.54,4.54,4.54,4.54,4.54,4.54,4.54,4.54,4.54,4.54,4.54,4.54,4.54,4.54,4.54,4.54,4.54,4.54,4.54,4.54,4.54]
es_lvnr = [2.88,2.88,2.88,2.9,2.92,2.95,2.95,2.95,2.93,2.9,2.85,2.7,2.5,2.42,2.38,2.35,2.3,2.32,2.28,2.3,2.25,2.3,
           2.27,2.2,2.3,2.22,2.25,2.18,2.22,2.15,2.2,2.12,2.15,2.1,2.12,2.05,2.1,2.0,2.05,1.95,2.0,1.9,1.95]
es_lvnr_lo = [2.0,2.0,2.0,2.0,2.0,1.3,1.1,1.4,1.2,1.0,1.35,1.15,1.4,1.25,1.1,1.3,1.2,1.4,1.1,1.3,1.2,1.35,
              1.05,1.25,1.4,1.1,1.3,1.2,1.35,1.15,1.3,1.05,1.25,1.4,1.2,1.3,1.1,1.25,1.15,1.3,1.2,1.1,1.0]
es_lvnr_hi = [3.73,3.73,3.73,3.73,3.73,3.73,3.73,3.73,3.73,3.73,3.73,3.73,3.73,3.73,3.73,3.73,3.73,3.73,3.73,3.73,3.73,3.73,
              3.73,3.73,3.73,3.73,3.73,3.73,3.73,3.73,3.73,3.73,3.73,3.73,3.73,3.73,3.73,3.73,3.73,3.73,3.73,3.73,3.73]

# (o) Cookp. UK
uk_ks = [0,1,2,3,4,5,6,7,8,9,10,11,12,13,14,15,16,17,18,19,20,21,22,23,24,25,26,27,28,29,30,31,32,33]
uk_lvn = [0.0,2.96,2.95,2.96,2.95,2.97,2.96,2.95,2.97,2.96,2.98,2.96,2.97,2.99,2.97,2.98,3.0,2.98,3.02,3.0,3.03,
          2.99,3.05,3.02,3.08,3.04,3.1,3.06,3.13,3.08,3.1,3.06,3.16,3.16]
uk_lvn_lo = [0.0,1.5,1.5,1.5,1.5,1.5,2.0,2.0,2.0,2.0,2.0,2.0,2.0,2.0,2.0,2.0,2.0,2.0,2.0,2.0,2.0,
             2.0,2.0,2.0,2.0,2.0,2.0,2.0,2.0,2.0,2.0,2.0,2.0,2.0]
uk_lvn_hi = [0.0,3.28,3.28,3.28,3.28,3.28,3.28,3.28,3.28,3.28,3.28,3.28,3.28,3.28,3.28,3.28,3.28,3.28,3.28,3.28,3.28,
             3.28,3.28,3.28,3.28,3.28,3.28,3.28,3.28,3.28,3.28,3.28,3.28,3.28]
uk_sbm = [nan,3.5,3.81,3.76,3.74,3.72,3.7,3.68,3.67,3.66,3.64,3.62,3.61,3.6,3.58,3.56,3.55,3.53,3.5,3.48,3.46,
          3.42,3.45,3.4,3.38,3.35,3.42,3.33,3.2,3.3,3.1,3.25,3.0,2.9]
uk_sbm_lo = [nan,2.6,1.9,2.2,1.95,2.3,2.0,2.4,2.1,2.45,1.95,2.2,2.35,2.5,2.2,2.6,2.3,2.1,2.4,2.2,2.6,
             2.3,2.1,2.45,2.2,2.6,2.35,2.1,2.5,2.3,2.64,2.4,2.2,2.5]
uk_sbm_hi = [nan,3.87,3.87,3.87,3.87,3.87,3.87,3.87,3.87,3.87,3.87,3.87,3.87,3.87,3.87,3.87,3.87,3.87,3.87,3.87,3.87,
             3.87,3.95,4.06,3.9,3.87,3.87,3.87,3.87,3.87,3.87,3.87,3.87,3.87]
uk_lvnr = [0.0,1.75,1.63,1.62,1.6,1.61,1.6,1.59,1.6,1.6,1.61,1.6,1.59,1.6,1.6,1.58,1.6,1.59,1.6,1.61,1.6,
           1.58,1.6,1.59,1.6,1.58,1.6,1.57,1.58,1.6,1.56,1.58,1.6,1.62]
uk_lvnr_lo = [0.0,1.0,1.05,1.1,1.08,1.12,1.05,1.1,1.15,1.08,1.12,1.05,1.1,1.15,1.1,1.05,1.12,1.08,1.15,1.1,1.05,
              1.12,1.1,1.08,1.15,1.1,1.05,1.12,1.1,1.08,1.05,1.1,1.15,1.12]
uk_lvnr_hi = [0.0,2.34,2.0,2.05,1.95,2.0,2.02,1.97,2.05,1.95,2.0,2.05,1.98,2.02,1.95,2.05,2.0,2.1,1.98,2.02,2.05,
              1.95,2.08,2.0,1.97,2.05,2.0,1.95,2.02,2.05,1.98,2.0,2.05,2.0]

panels = [
    ('(a)', 'Facebook 1', fb1_ks, [(fb1_lvn, fb1_lvn_lo, fb1_lvn_hi), (fb1_sbm, fb1_sbm_lo, fb1_sbm_hi), (fb1_lvnr, fb1_lvnr_lo, fb1_lvnr_hi)]),
    ('(b)', 'Facebook 2', fb2_ks, [(fb2_lvn, fb2_lvn_lo, fb2_lvn_hi), (fb2_sbm, fb2_sbm_lo, fb2_sbm_hi), (fb2_lvnr, fb2_lvnr_lo, fb2_lvnr_hi)]),
    ('(c)', 'Facebook 3', fb3_ks, [(fb3_lvn, fb3_lvn_lo, fb3_lvn_hi), (fb3_sbm, fb3_sbm_lo, fb3_sbm_hi), (fb3_lvnr, fb3_lvnr_lo, fb3_lvnr_hi)]),
    ('(d)', 'Facebook 4', fb4_ks, [(fb4_lvn, fb4_lvn_lo, fb4_lvn_hi), (fb4_sbm, fb4_sbm_lo, fb4_sbm_hi), (fb4_lvnr, fb4_lvnr_lo, fb4_lvnr_hi)]),
    ('(e)', 'Facebook 5', fb5_ks, [(fb5_lvn, fb5_lvn_lo, fb5_lvn_hi), (fb5_sbm, fb5_sbm_lo, fb5_sbm_hi), (fb5_lvnr, fb5_lvnr_lo, fb5_lvnr_hi)]),
    ('(f)', 'Twitter', tw_ks, [(tw_lvn, tw_lvn_lo, tw_lvn_hi), (tw_sbm, tw_sbm_lo, tw_sbm_hi), (tw_lvnr, tw_lvnr_lo, tw_lvnr_hi)]),
    ('(g)', 'Web-blog', blog_ks, [(blog_lvn, blog_lvn_lo, blog_lvn_hi), (blog_sbm, blog_sbm_lo, blog_sbm_hi), (blog_lvnr, blog_lvnr_lo, blog_lvnr_hi)]),
    ('(h)', 'Emails', mail_ks, [(mail_lvn, mail_lvn_lo, mail_lvn_hi), (mail_sbm, mail_sbm_lo, mail_sbm_hi), (mail_lvnr, mail_lvnr_lo, mail_lvnr_hi)]),
    ('(i)', 'Cond.  Matter', cm_ks, [(cm_lvn, cm_lvn_lo, cm_lvn_hi), (cm_sbm, cm_sbm_lo, cm_sbm_hi), (cm_lvnr, cm_lvnr_lo, cm_lvnr_hi)]),
    ('(j)', 'Comp.  Science', cs_ks, [(cs_lvn, cs_lvn_lo, cs_lvn_hi), (cs_sbm, cs_sbm_lo, cs_sbm_hi), (cs_lvnr, cs_lvnr_lo, cs_lvnr_hi)]),
    ('(k)', 'Global airline', air_ks, [(air_lvn, air_lvn_lo, air_lvn_hi), (air_sbm, air_sbm_lo, air_sbm_hi), (air_lvnr, air_lvnr_lo, air_lvnr_hi)]),
    ('(l)', 'Words', words_ks, [(words_lvn, words_lvn_lo, words_lvn_hi), (words_sbm, words_sbm_lo, words_sbm_hi), (words_lvnr, words_lvnr_lo, words_lvnr_hi)]),
    ('(m)', 'Cookp.  Greece', gr_ks, [(gr_lvn, gr_lvn_lo, gr_lvn_hi), (gr_sbm, gr_sbm_lo, gr_sbm_hi), (gr_lvnr, gr_lvnr_lo, gr_lvnr_hi)]),
    ('(n)', 'Cookp.  Spain', es_ks, [(es_lvn, es_lvn_lo, es_lvn_hi), (es_sbm, es_sbm_lo, es_sbm_hi), (es_lvnr, es_lvnr_lo, es_lvnr_hi)]),
    ('(o)', 'Cookp.  UK', uk_ks, [(uk_lvn, uk_lvn_lo, uk_lvn_hi), (uk_sbm, uk_sbm_lo, uk_sbm_hi), (uk_lvnr, uk_lvnr_lo, uk_lvnr_hi)]),
]

# axis ranges (x, log10 y), major x step and labelled decades for each panel
xlims = [(-4.9, 119.6), (-1.7, 58.5), (-1.9, 66.0), (-2.4, 65.9), (-3.1, 85.1), (-3.3, 100.8),
         (-2.0, 37.7), (-1.8, 35.6), (-0.2, 26.25), (-4.8, 117.3), (-0.5, 32.5), (-0.4, 32.6),
         (-8.9, 165.0), (-7.6, 168.75), (-1.73, 34.8)]
ylims = [(0.2, 3.43), (-0.83, 4.4), (-0.49, 4.09), (-0.84, 4.7), (-0.92, 5.5), (0.27, 5.3),
         (-1.19, 4.15), (-1.13, 3.68), (-0.83, 4.28), (-0.46, 5.65), (-0.78, 3.98), (-0.83, 5.25),
         (-1.19, 5.27), (-0.9, 5.92), (-1.14, 5.04)]
xsteps = [50, 25, 25, 25, 25, 50, 10, 10, 10, 50, 10, 10, 50, 50, 10]
ydecades = [[1, 2, 3], [1, 3], [1, 3], [1, 3], [1, 3, 5], [2, 4], [0, 2], [0, 2], [1, 3],
            [1, 3, 5], [1, 3], [1, 3, 5], [0, 2, 4], [1, 3, 5], [0, 2, 4]]

names = ['Lvn', 'SBM', 'LvnR']
colors = ['#ff7f0e', '#1f77b4', '#2ca02c']
markers = ['D', 'v', '<']
msizes = [8, 9.5, 9.5]

fig, axes = plt.subplots(5, 3, figsize=(11.28, 17.96))
fig.subplots_adjust(left=0.0993, right=0.9787, top=0.946, bottom=0.0423, wspace=0.205, hspace=0.204)

for i, (ax, (letter, title, ks, groups)) in enumerate(zip(axes.flat, panels)):
    ks = np.array(ks, dtype=float)
    for (mean, lo, hi), c in zip(groups, colors):
        ax.fill_between(ks, 10 ** np.array(lo), 10 ** np.array(hi), color=c, alpha=0.22, lw=0)
    for (mean, lo, hi), c, m, s in zip(groups, colors, markers, msizes):
        y = 10 ** np.array(mean, dtype=float)
        ax.plot(ks, y, color=c, lw=1.2, alpha=0.3)
        ax.plot(ks, y, ls='none', marker=m, ms=s, color=c, mec='white', mew=0.5, alpha=0.9)

    ax.set_yscale('log')
    ax.set_xlim(*xlims[i])
    ax.set_ylim(10 ** ylims[i][0], 10 ** ylims[i][1])
    ax.set_yticks([10.0 ** d for d in ydecades[i]])
    if i == 0:
        ax.yaxis.set_minor_locator(LogLocator(base=10, subs=np.arange(2, 10)))
    else:
        ax.yaxis.set_minor_locator(NullLocator())
    ax.xaxis.set_major_locator(MultipleLocator(xsteps[i]))
    ax.xaxis.set_minor_locator(AutoMinorLocator())
    ax.tick_params(which='both', direction='in', top=False, right=False, labelsize=19)
    ax.tick_params(which='major', length=7, width=1)
    ax.tick_params(which='minor', length=3.5, width=0.8)
    ax.tick_params(axis='x', pad=5)
    for sp in ax.spines.values():
        sp.set_linewidth(1.0)
        sp.set_color('0.15')

    ax.text(0.03, 0.975, letter, transform=ax.transAxes, ha='left', va='top', fontsize=24, family='cmss10')
    ax.text(0.975, 0.975, title, transform=ax.transAxes, ha='right', va='top', fontsize=24, family='cmss10')

    if i % 3 == 0:
        ax.set_ylabel(r'$\langle s_{\mathrm{C}}\rangle$', rotation=0, fontsize=23, ha='center', va='center')
        ax.yaxis.set_label_coords(-0.25, 0.57)
    if i >= 12:
        ax.set_xlabel(r'$k_s$', fontsize=26, va='center')
        ax.xaxis.set_label_coords(0.5, -0.2)

handles = [Line2D([], [], ls='none', marker=m, color=c, ms=s * 1.8, mec='white', mew=0.5)
           for c, m, s in zip(colors, markers, msizes)]
fig.legend(handles, names, loc='upper center', bbox_to_anchor=(0.537, 0.9972), ncol=3,
           prop={'family': 'cmtt10', 'size': 28}, handlelength=1.0, handletextpad=1.0,
           columnspacing=2.2, borderpad=0.45, borderaxespad=0.0, edgecolor='0.8')

fig.savefig('out.png', dpi=100)
